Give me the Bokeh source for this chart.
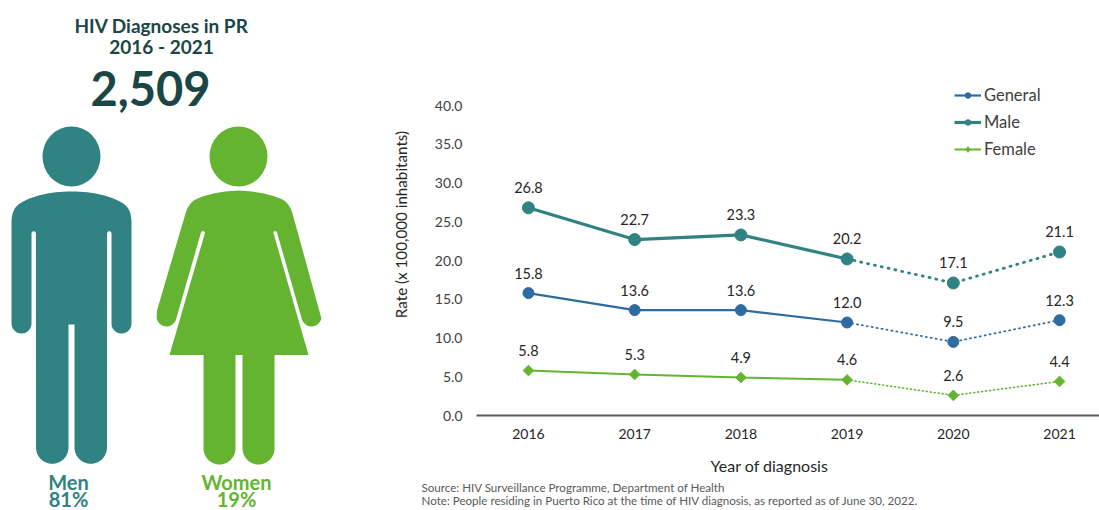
import math

import numpy as np
from bokeh.core.properties import value
from bokeh.embed import file_html
from bokeh.layouts import row
from bokeh.models import (ColumnDataSource, CustomJSTickFormatter, FixedTicker, Legend, LegendItem,
                          Range1d)
from bokeh.plotting import figure
from bokeh.resources import INLINE

# Chart values
years = [2016, 2017, 2018, 2019, 2020, 2021]
general = [15.8, 13.6, 13.6, 12.0, 9.5, 12.3]
male = [26.8, 22.7, 23.3, 20.2, 17.1, 21.1]
female = [5.8, 5.3, 4.9, 4.6, 2.6, 4.4]
y_ticks = [0, 5, 10, 15, 20, 25, 30, 35, 40]

title_lines = ["HIV Diagnoses in PR", "2016 - 2021"]
total_label = "2,509"
men_labels = ["Men", "81%"]
women_labels = ["Women", "19%"]
x_title = "Year of diagnosis"
y_title = "Rate (x 100,000 inhabitants)"
source_lines = [
    "Source: HIV Surveillance Programme, Department of Health",
    "Note: People residing in Puerto Rico at the time of HIV diagnosis, as reported as of June 30, 2022.",
]

DARK = "#1a4645"
TEAL = "#318282"
GREEN = "#64b432"
BLUE = "#2e6b9e"
FONT = "Lato"
W, H = 1099, 510


def arc(cx, cy, r, a0, a1, n=24):
    t = np.radians(np.linspace(a0, a1, n))
    return list(zip(cx + r * np.cos(t), cy + r * np.sin(t)))


def curve(p0, p1, p2, n=16):
    t = np.linspace(0, 1, n)[:, None]
    p0, p1, p2 = map(np.array, (p0, p1, p2))
    return [tuple(q) for q in (1 - t) ** 2 * p0 + 2 * t * (1 - t) * p1 + t ** 2 * p2]


def man_outline():
    pts = []
    pts += curve((71, 191), (40, 191), (21, 202))
    pts += curve((21, 202), (11, 207), (11, 222))
    pts += arc(21, 323, 10, 180, 0)
    pts += [(31, 233)] + arc(33.2, 233, 2.2, 180, 360, 8)
    pts += arc(51.75, 447, 16.25, 180, 0)
    pts += [(68, 324), (74, 324)]
    pts += arc(90.25, 447, 16.25, 180, 0)
    pts += arc(108.8, 233, 2.2, 180, 360, 8)
    pts += arc(121, 323, 10, 180, 0)
    pts += curve((131, 222), (131, 207), (121, 202))
    pts += curve((121, 202), (102, 191), (71, 191))
    return pts


def woman_outline():
    pts = []
    pts += curve((238, 190), (212, 191), (195, 199))
    pts += curve((195, 199), (188, 203), (185, 213))
    pts += [(156.5, 310)]
    pts += arc(166, 316, 10, 170, 20, 12)
    pts += [(200.5, 232)] + arc(202.4, 232.6, 2, 190, 360, 6)
    pts += [(169, 354.5), (203, 354.5)]
    pts += arc(219, 448, 16, 180, 0)
    pts += [(235, 354.5), (242, 354.5)]
    pts += arc(258, 448, 16, 180, 0)
    pts += [(274, 354.5), (308, 354.5), (273, 232.6)]
    pts += arc(274.6, 232.6, 2, 180, 350, 6)
    pts += arc(311, 316, 10, 160, 10, 12)
    pts += [(292, 213)]
    pts += curve((292, 213), (289, 203), (282, 199))
    pts += curve((282, 199), (264, 191), (238, 190))
    return pts


# Backdrop panel in page pixels: headline figures, pictograms, titles and notes
back = figure(width=W, height=H, output_backend="svg", toolbar_location=None,
              x_range=Range1d(0, W), y_range=Range1d(H, 0), frame_align=False,
              min_border=0, outline_line_color=None, x_axis_location=None, y_axis_location=None)
back.grid.visible = False

back.ellipse(x=[71], y=[156], width=58, height=60, fill_color=TEAL, line_color=None)
back.ellipse(x=[238], y=[156], width=58, height=60, fill_color=GREEN, line_color=None)
mx, my = zip(*man_outline())
back.patch(list(mx), list(my), fill_color=TEAL, line_color=None)
wx, wy = zip(*woman_outline())
back.patch(list(wx), list(wy), fill_color=GREEN, line_color=None)


def put(x, y, text, size, color, style="bold", align="center", angle=0.0):
    back.text(x=[x], y=[y], text=[text], text_font=value(FONT), text_font_style=style,
              text_font_size=size, text_color=color, text_align=align, text_baseline="middle",
              angle=angle)


put(161, 25, title_lines[0], "19px", DARK)
put(161, 46, title_lines[1], "19px", DARK)
put(150, 88, total_label, "47px", DARK)
put(68, 481, men_labels[0], "20px", TEAL)
put(68, 498, men_labels[1], "20px", TEAL)
put(236, 481, women_labels[0], "20px", GREEN)
put(236, 498, women_labels[1], "20px", GREEN)
put(769, 465, x_title, "16px", "#262626", style="normal")
put(400, 224, y_title, "15.2px", "#262626", style="normal", angle=math.pi / 2)
put(421, 487, source_lines[0], "11.6px", "#595959", style="normal", align="left")
put(421, 500, source_lines[1], "11.6px", "#595959", style="normal", align="left")

# Rate panel with real scales, laid over the right part of the backdrop
px_per_year = 106.3
px_per_unit = 7.75
panel_w = 699
frame_left, frame_right, frame_top, frame_bottom = 476, W, 70, 415
x0 = 2016 - (528 - frame_left) / px_per_year
x1 = 2021 + (frame_right - 1059) / px_per_year
y1 = (frame_bottom - frame_top) / px_per_unit

chart = figure(width=panel_w, height=H, output_backend="svg", toolbar_location=None,
               x_range=Range1d(x0, x1), y_range=Range1d(0, y1), frame_align=False,
               min_border_left=frame_left - (W - panel_w), min_border_right=0,
               min_border_top=frame_top, min_border_bottom=H - frame_bottom,
               outline_line_color=None, background_fill_alpha=0, border_fill_alpha=0,
               margin=(0, 0, 0, -panel_w))
chart.grid.visible = False

chart.xaxis.ticker = FixedTicker(ticks=years)
chart.xaxis.major_tick_line_color = None
chart.xaxis.minor_tick_line_color = None
chart.xaxis.axis_line_color = "#595959"
chart.xaxis.axis_line_width = 2
chart.xaxis.major_label_standoff = 7
chart.xaxis.major_label_text_font = FONT
chart.xaxis.major_label_text_font_size = "14px"
chart.xaxis.major_label_text_color = "#262626"

chart.yaxis.ticker = FixedTicker(ticks=y_ticks)
chart.yaxis.formatter = CustomJSTickFormatter(code="return tick.toFixed(1)")
chart.yaxis.major_tick_line_color = None
chart.yaxis.minor_tick_line_color = None
chart.yaxis.axis_line_color = None
chart.yaxis.major_label_standoff = 8
chart.yaxis.major_label_text_font = FONT
chart.yaxis.major_label_text_font_size = "14px"
chart.yaxis.major_label_text_color = "#404040"

series = [
    ("General", general, BLUE, 2.2, "1 4", "circle", 11, 0.0, "circle", 5),
    ("Male", male, TEAL, 3.2, "1 6", "circle", 12, 0.0, "circle", 6),
    ("Female", female, GREEN, 2.0, "1 3", "square", 7.5, math.pi / 4, "diamond", 6),
]

items = []
for name, vals, color, lw, dash, marker, size, angle, key_marker, key_size in series:
    solid = chart.line(years[:4], vals[:4], line_color=color, line_width=lw)
    chart.line(years[3:], vals[3:], line_color=color, line_width=lw - 0.4, line_dash=dash,
               line_cap="round")
    src = ColumnDataSource(dict(x=years, y=vals, t=[f"{v:.1f}" for v in vals]))
    chart.scatter("x", "y", source=src, marker=marker, size=size, angle=angle,
                  fill_color=color, line_color=color)
    chart.text("x", "y", text="t", source=src, text_font=value(FONT), text_font_size="14.5px",
               text_color="#262626", text_align="center", text_baseline="middle", y_offset=-20)
    # Smaller marker used only by the legend key; it has nothing to plot
    key = chart.scatter([float("nan")], [float("nan")], marker=key_marker, size=key_size,
                        fill_color=color, line_color=color)
    items.append(LegendItem(label=name, renderers=[solid, key]))

legend = Legend(items=items, location=(478, 256), orientation="vertical", background_fill_alpha=0,
                border_line_color=None, glyph_width=27, glyph_height=14, spacing=7, margin=0,
                padding=0, label_standoff=3, label_text_font=FONT, label_text_font_size="16.5px",
                label_text_color="#404040")
chart.add_layout(legend)

layout = row(back, chart, spacing=0)
open("out.html", "w").write(file_html(layout, INLINE))
